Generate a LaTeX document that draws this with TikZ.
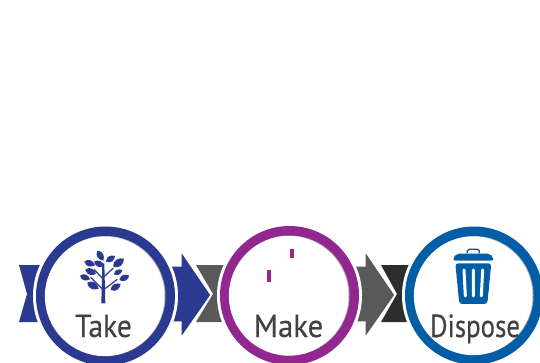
\documentclass[tikz,border=0pt]{standalone}
\usepackage{fontspec}
\setmainfont[FakeBold=0.35]{PT Sans}
\definecolor{tblue}{HTML}{2B3990}
\definecolor{mpurple}{HTML}{92278F}
\definecolor{dblue}{HTML}{005DA6}
\definecolor{grayA}{HTML}{595959}
\definecolor{grayB}{HTML}{2D2D2B}
\definecolor{lbl}{HTML}{414042}
\tikzset{
  lab/.style={text=lbl,font=\fontsize{32}{32}\selectfont,anchor=base,inner sep=0pt},
  arrowshape/.style={fill=#1,draw=white,line width=1.2pt,line join=miter},
}
\newcommand{\ringat}[3]{% centre, outer radius, colour
  \fill[white] (#1) circle ({#2+3});
  \fill[#3] (#1) circle (#2);
  \fill[black!28] (#1) circle ({#2-9.5});
  \fill[white] (#1) ++(-.8,.3) circle ({#2-9.7});
}
\newcommand{\leaf}[4]{%
  \pgfmathsetmacro{\dx}{#3-#1}\pgfmathsetmacro{\dy}{#4-#2}%
  \fill[tblue] (#1,#2) .. controls ({#1+.3*\dx-.44*\dy},{#2+.3*\dy+.44*\dx}) and ({#1+.75*\dx-.3*\dy},{#2+.75*\dy+.3*\dx}) .. (#3,#4)
   .. controls ({#1+.75*\dx+.3*\dy},{#2+.75*\dy-.3*\dx}) and ({#1+.3*\dx+.44*\dy},{#2+.3*\dy-.44*\dx}) .. cycle;}
\begin{document}
\begin{tikzpicture}[x=1pt,y=-1pt]
\useasboundingbox (0,0) rectangle (540,363);
\clip (0,0) rectangle (540,363);
% tails and heads
\fill[tblue] (19,265) -- (45,265) -- (45,322) -- (19,322) -- (27,294) -- cycle;
\fill[grayA] (196,265) -- (230,265) -- (230,322) -- (196,322) -- (213,294) -- cycle;
\fill[grayB] (381,265) -- (415,265) -- (415,322) -- (381,322) -- (397,294) -- cycle;
\path[arrowshape=tblue] (165,266) -- (181,266) -- (181,251) -- (211,295) -- (181,338) -- (181,322) -- (165,322) -- cycle;
\path[arrowshape=grayA] (350,266) -- (365,266) -- (365,251) -- (395,295) -- (365,338) -- (365,322) -- (350,322) -- cycle;
% rings
\ringat{105.5,296}{69.5}{tblue}
\ringat{289.5,295.5}{69.5}{mpurple}
\ringat{474,295.5}{69}{dblue}
% labels
\node[lab] (takelabel) at (103.5,337) {\scalebox{.92}[1]{Take}};
\node[lab] (makelabel) at (288.5,337) {\scalebox{.96}[1]{Make}};
\node[lab] (disposelabel) at (475,337) {\scalebox{.84}[1]{Dispose}};
% make marks
\fill[mpurple] (290,249) rectangle (294,258);
\fill[mpurple] (267,270) rectangle (271,282);
% tree
\begin{scope}[shift={(70,240)},x=.3333pt,y=-.3333pt]
\fill[tblue] (94,190) -- (97,70) -- (103,70) -- (106,190) -- cycle;
\draw[tblue,line width=1.2pt] (100,150) -- (62,112) (100,150) -- (142,118) (100,118) -- (72,88) (100,112) -- (130,84);
\leaf{82}{32}{100}{62}
\leaf{108}{65}{135}{48}
\leaf{130}{80}{162}{56}
\leaf{72}{65}{102}{78}
\leaf{43}{64}{75}{76}
\leaf{132}{103}{157}{90}
\leaf{46}{88}{78}{102}
\leaf{30}{107}{60}{118}
\leaf{148}{120}{178}{107}
\leaf{52}{128}{86}{146}
\leaf{122}{150}{152}{132}
\end{scope}
% bin
\begin{scope}[shift={(350,220)},x=.3333pt,y=-.3333pt]
\draw[dblue,line width=1.2pt,rounded corners=1.5pt] (352,100) -- (352,88) -- (388,88) -- (388,100);
\fill[dblue,rounded corners=2pt] (310,122) -- (310,112) -- (322,101) -- (418,101) -- (430,112) -- (430,122) -- cycle;
\fill[dblue,rounded corners=3pt] (316,130) -- (424,130) -- (412,252) -- (328,252) -- cycle;
\draw[white,line width=3pt,line cap=round] (342,150) -- (346,228) (370,150) -- (370,228) (398,150) -- (394,228);
\end{scope}
\end{tikzpicture}
\end{document}
